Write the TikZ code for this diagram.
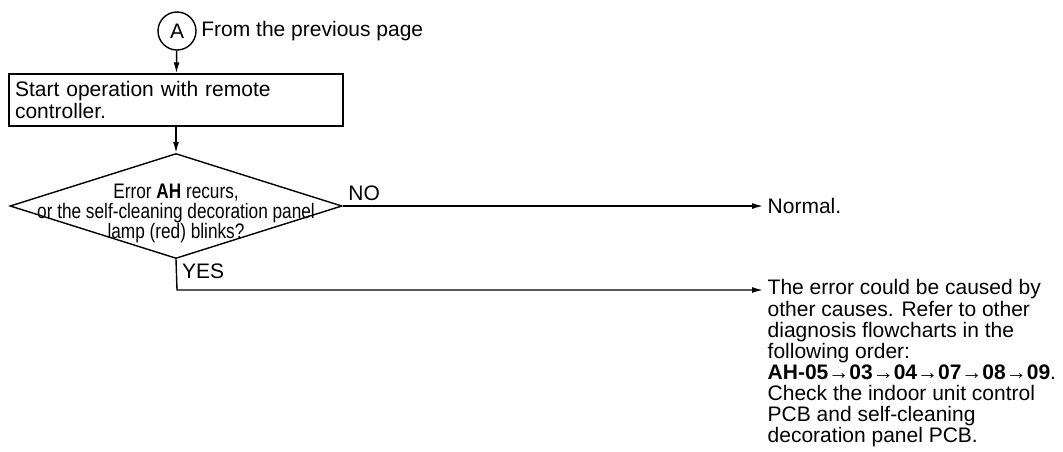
\documentclass[tikz,border=0pt]{standalone}
\usepackage{fontspec}
\setmainfont{Liberation Sans}
\newfontfamily\narrowfont{Liberation Sans}[FakeStretch=0.82]
\usetikzlibrary{positioning,arrows.meta,shapes.geometric}

\begin{document}
\begin{tikzpicture}[
    x=0.5pt, y=-0.5pt,
    font=\fontsize{10.5}{10.55}\selectfont,
    line width=0.7pt,
    conn/.style={draw, circle, minimum size=19pt, inner sep=0pt},
    box/.style={draw, rectangle, minimum width=167pt, minimum height=26pt, text width=161pt, inner xsep=3pt, align=left},
    decision/.style={draw, diamond, minimum width=166pt, minimum height=52.5pt, inner sep=0pt},
    result/.style={inner xsep=2pt, inner ysep=0pt, align=left},
    arrow/.style={-{Latex[length=5.5pt, width=3pt]}}
]
\useasboundingbox (0,0) rectangle (1063,451);
\node[conn] (conA) at (177,31) {A};
\node[right=1pt of conA, inner sep=1pt] (fromprev) {From the previous page};
\node[box] (start) at (176,100) {Start operation with remote\\controller.};
\node[decision] (check) at (176,206) {};
\node[font=\narrowfont\fontsize{10.5}{10}\selectfont, align=center] (question) at (176,213) {Error \textbf{AH} recurs,\\or the self-cleaning decoration panel\\lamp (red) blinks?};
\node[result, anchor=west] (normal) at (763,206) {Normal.};
\node[result, anchor=north west] (other) at (763,279) {The error could be caused by\\other causes. Refer to other\\diagnosis flowcharts in the\\following order:\\\textbf{AH-05}→\textbf{03}→\textbf{04}→\textbf{07}→\textbf{08}→\textbf{09}.\\Check the indoor unit control\\PCB and self-cleaning\\decoration panel PCB.};
\coordinate (yesbend) at (177,290);
\draw[arrow] (conA) -- (start);
\draw[arrow] (start) -- (check);
\draw[arrow] (check.east) -- node[pos=0, anchor=south west, inner sep=2.5pt] (nolabel) {NO} (normal.west);
\draw[arrow] (check.south) -- node[pos=0, anchor=north west, inner xsep=2.75pt, inner ysep=1.75pt] (yeslabel) {YES} (yesbend) -- (yesbend -| other.west);
\end{tikzpicture}
\end{document}
